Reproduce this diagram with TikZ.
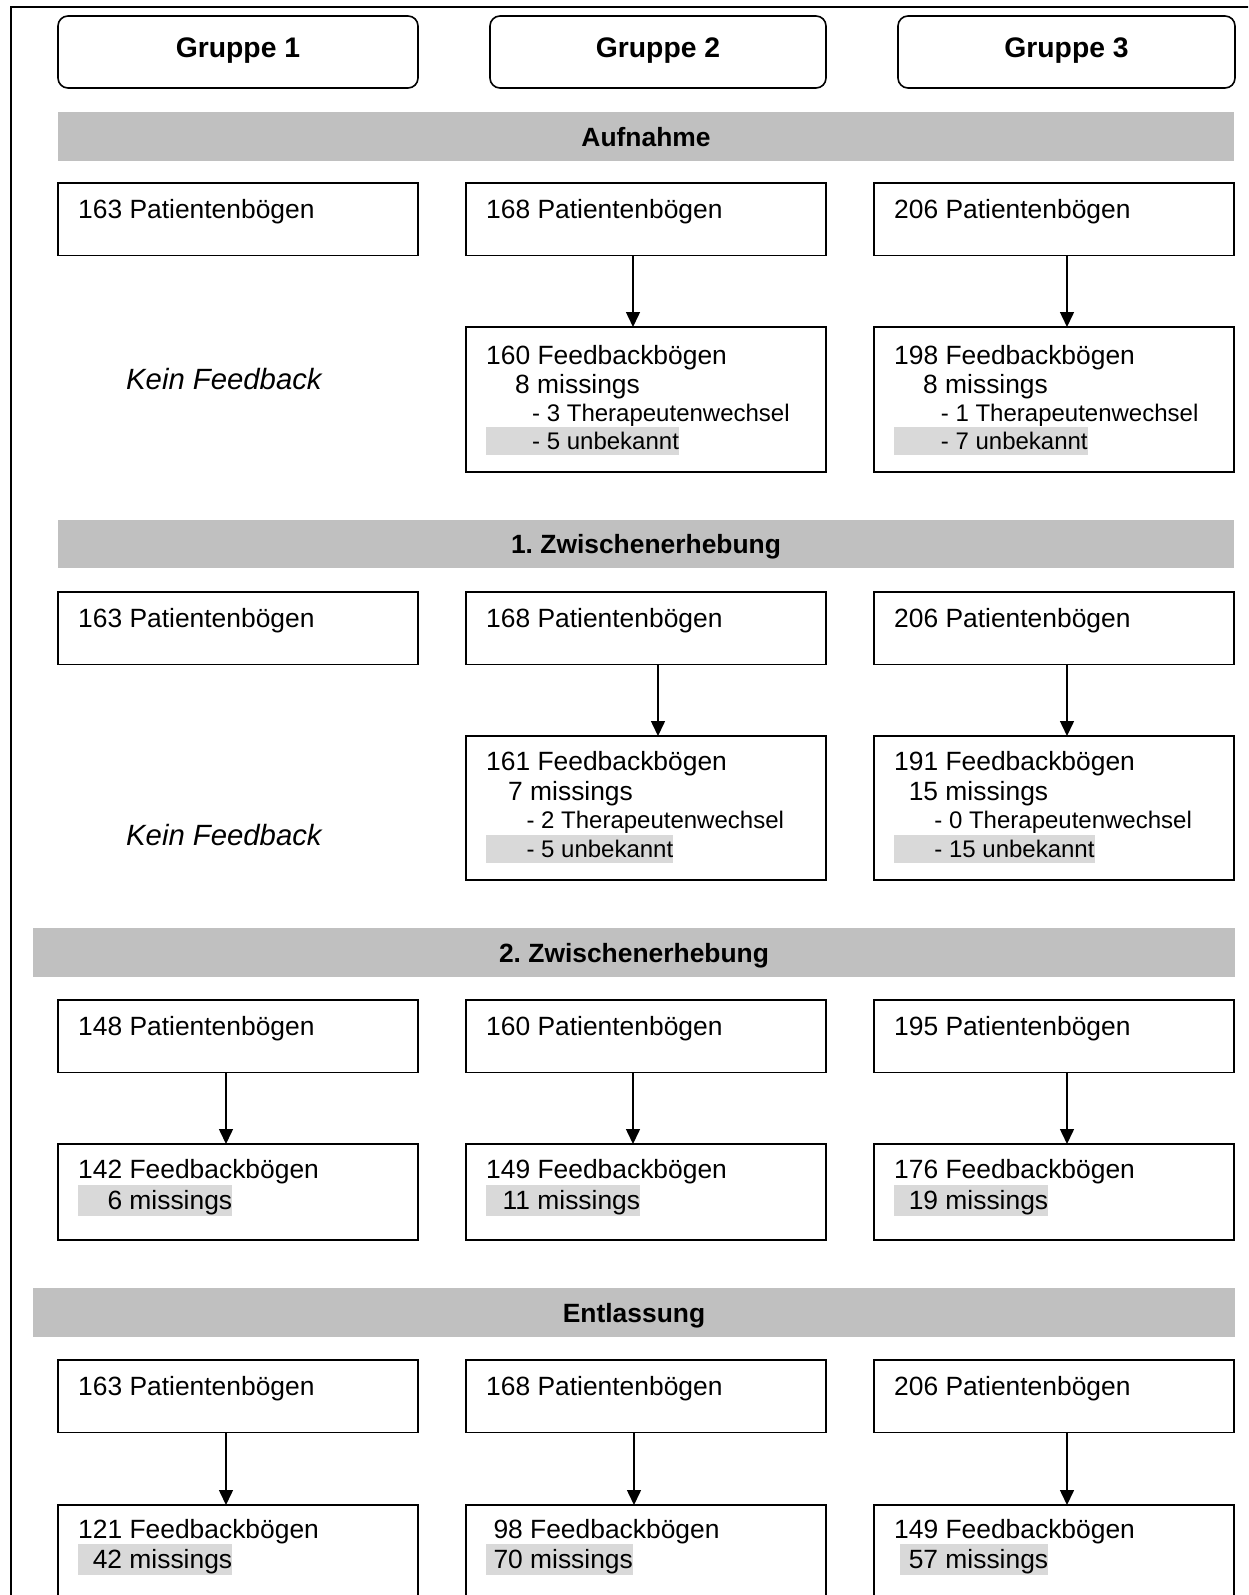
\documentclass[tikz,border=0pt]{standalone}
\usepackage{fontspec}
\setmainfont{Liberation Sans}
\usetikzlibrary{arrows.meta}
\definecolor{barfill}{RGB}{192,192,192}
\definecolor{hlfill}{RGB}{217,217,217}
\frenchspacing

\tikzset{
  frame/.style={draw, line width=2pt},
  hdr/.style={draw, line width=1.6pt, rounded corners=10pt, anchor=north west,
    inner sep=0pt, outer sep=0pt, minimum height=72pt,
    font=\bfseries\fontsize{28.3pt}{32pt}\selectfont, text height=20pt, text depth=8pt},
  bx/.style={draw, line width=1.6pt, anchor=north west, inner sep=0pt, outer sep=0pt,
    minimum width=360pt},
  bar/.style={fill=barfill, anchor=north west, inner sep=0pt, outer sep=0pt,
    font=\bfseries\fontsize{26.4pt}{30pt}\selectfont, text height=19pt, text depth=0pt},
  tx/.style={anchor=base west, inner sep=0pt, font=\fontsize{26.4pt}{30pt}\selectfont},
  txs/.style={anchor=base west, inner sep=0pt, font=\fontsize{24pt}{28pt}\selectfont},
  hl/.style={tx, fill=hlfill, text height=24pt, text depth=7pt},
  hls/.style={txs, fill=hlfill, text height=22.3pt, text depth=5.6pt},
  nofb/.style={anchor=base west, inner sep=0pt, font=\itshape\fontsize{29.3pt}{34pt}\selectfont},
  arr/.style={-{Triangle[width=14pt,length=15pt]}, line width=1.5pt},
}

% patient sheet box: name, left, top, label
\newcommand\patbox[4]{%
  \node[bx, minimum height=72.5pt] (#1) at (#2,#3) {};
  \node[tx] (#1-t) at ([xshift=20pt,yshift=-35pt]#1.north west) {#4};
}

\begin{document}
\begin{tikzpicture}[x=1pt,y=-1pt]
\useasboundingbox (0,0) rectangle (1248,1595);
\clip (0,0) rectangle (1248,1595);
\fill[white] (0,0) rectangle (1248,1595);

% outer frame
\draw[frame] (11,1640) -- (11,7.5) -- (1280,7.5);

% group headers
\node[hdr, minimum width=360pt] (g1) at (58,16) {Gruppe 1};
\node[hdr, minimum width=336pt] (g2) at (490,16) {Gruppe 2};
\node[hdr, minimum width=337pt] (g3) at (898,16) {Gruppe 3};

% ---------------- Aufnahme ----------------
\node[bar, minimum width=1176pt, minimum height=49pt] (b1) at (58,112) {Aufnahme};

\patbox{p11}{58}{183}{163 Patientenbögen}
\patbox{p12}{466}{183}{168 Patientenbögen}
\patbox{p13}{874}{183}{206 Patientenbögen}

\node[nofb] (k1) at (126,389) {Kein Feedback};

\node[bx, minimum height=145pt] (f12) at (466,327) {};
\node[tx] (f12a) at (486,364) {160 Feedbackbögen};
\node[tx] (f12b) at (515,393) {8 missings};
\node[txs] (f12c) at (532,421.7) {- 3 Therapeutenwechsel};
\node[hls] (f12d) at (486,449.3) {\hspace*{46pt}- 5 unbekannt};

\node[bx, minimum height=145pt] (f13) at (874,327) {};
\node[tx] (f13a) at (894,364) {198 Feedbackbögen};
\node[tx] (f13b) at (923,393) {8 missings};
\node[txs] (f13c) at (940.7,421.7) {- 1 Therapeutenwechsel};
\node[hls] (f13d) at (894,449.3) {\hspace*{46.7pt}- 7 unbekannt};

\draw[arr] ([xshift=-13pt]p12.south) -- ([xshift=-13pt]f12.north);
\draw[arr] ([xshift=13pt]p13.south) -- ([xshift=13pt]f13.north);

% ---------------- 1. Zwischenerhebung ----------------
\node[bar, minimum width=1176pt, minimum height=48pt] (b2) at (58,520) {1. Zwischenerhebung};

\patbox{p21}{58}{592}{163 Patientenbögen}
\patbox{p22}{466}{592}{168 Patientenbögen}
\patbox{p23}{874}{592}{206 Patientenbögen}

\node[nofb] (k2) at (126,845.6) {Kein Feedback};

\node[bx, minimum height=144pt] (f22) at (466,736) {};
\node[tx] (f22a) at (486,770.5) {161 Feedbackbögen};
\node[tx] (f22b) at (508,800) {7 missings};
\node[txs] (f22c) at (526.3,828.3) {- 2 Therapeutenwechsel};
\node[hls] (f22d) at (486,857.3) {\hspace*{40.3pt}- 5 unbekannt};

\node[bx, minimum height=144pt] (f23) at (874,736) {};
\node[tx] (f23a) at (894,770.5) {191 Feedbackbögen};
\node[tx] (f23b) at (908.6,800) {15 missings};
\node[txs] (f23c) at (934.2,828.3) {- 0 Therapeutenwechsel};
\node[hls] (f23d) at (894,857.3) {\hspace*{40.2pt}- 15 unbekannt};

\draw[arr] ([xshift=12pt]p22.south) -- ([xshift=12pt]f22.north);
\draw[arr] ([xshift=13pt]p23.south) -- ([xshift=13pt]f23.north);

% ---------------- 2. Zwischenerhebung ----------------
\node[bar, minimum width=1202pt, minimum height=49pt] (b3) at (33,928) {2. Zwischenerhebung};

\patbox{p31}{58}{1000}{148 Patientenbögen}
\patbox{p32}{466}{1000}{160 Patientenbögen}
\patbox{p33}{874}{1000}{195 Patientenbögen}

\node[bx, minimum height=96pt] (f31) at (58,1144) {};
\node[tx] (f31a) at (78,1178.5) {142 Feedbackbögen};
\node[hl] (f31b) at (78,1209) {\hspace*{29.3pt}6 missings};

\node[bx, minimum height=96pt] (f32) at (466,1144) {};
\node[tx] (f32a) at (486,1178.5) {149 Feedbackbögen};
\node[hl] (f32b) at (486,1209) {\hspace*{16.5pt}11 missings};

\node[bx, minimum height=96pt] (f33) at (874,1144) {};
\node[tx] (f33a) at (894,1178.5) {176 Feedbackbögen};
\node[hl] (f33b) at (894,1209) {\hspace*{14.6pt}19 missings};

\draw[arr] ([xshift=-12pt]p31.south) -- ([xshift=-12pt]f31.north);
\draw[arr] ([xshift=-13pt]p32.south) -- ([xshift=-13pt]f32.north);
\draw[arr] ([xshift=13pt]p33.south) -- ([xshift=13pt]f33.north);

% ---------------- Entlassung ----------------
\node[bar, minimum width=1202pt, minimum height=49pt] (b4) at (33,1288) {Entlassung};

\patbox{p41}{58}{1360}{163 Patientenbögen}
\patbox{p42}{466}{1360}{168 Patientenbögen}
\patbox{p43}{874}{1360}{206 Patientenbögen}

\node[bx, minimum height=100pt] (f41) at (58,1505) {};
\node[tx] (f41a) at (78,1538.3) {121 Feedbackbögen};
\node[hl] (f41b) at (78,1568.3) {\hspace*{14.6pt}42 missings};

\node[bx, minimum height=100pt] (f42) at (466,1505) {};
\node[tx] (f42a) at (493.3,1538.3) {98 Feedbackbögen};
\node[hl] (f42b) at (486,1568.3) {\hspace*{7.3pt}70 missings};

\node[bx, minimum height=100pt] (f43) at (874,1505) {};
\node[tx] (f43a) at (894,1538.3) {149 Feedbackbögen};
\node[hl] (f43b) at (900,1568.3) {\hspace*{8.6pt}57 missings};

\draw[arr] ([xshift=-12pt]p41.south) -- ([xshift=-12pt]f41.north);
\draw[arr] ([xshift=-12pt]p42.south) -- ([xshift=-12pt]f42.north);
\draw[arr] ([xshift=13pt]p43.south) -- ([xshift=13pt]f43.north);
\end{tikzpicture}
\end{document}
